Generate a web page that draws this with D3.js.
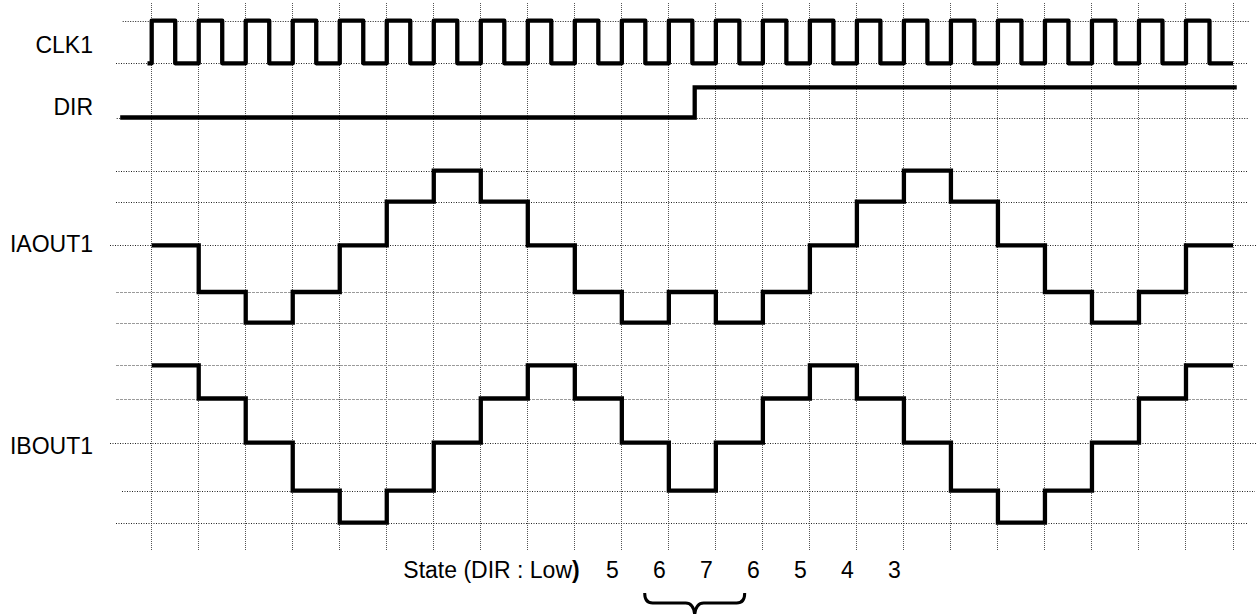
<!DOCTYPE html>
<html><head><meta charset="utf-8">
<script src="https://cdn.jsdelivr.net/npm/d3@7"></script>
<style>
html,body{margin:0;padding:0;background:#fff;}
svg{display:block;}
text{font-family:"Liberation Sans",Arial,sans-serif;font-size:23px;fill:#000;}
</style></head><body>
<svg id="chart" width="1257" height="614"></svg>
<script>
// ---- data ----
const signalNames = ["CLK1", "DIR", "IAOUT1", "IBOUT1"];
const gridColumns = [0,1,2,3,4,5,6,7,8,9,10,11,12,13,14,15,16,17,18,19,20,21,22,23];
// clock level for each half period (high, low, ...)
const clkLevels = [1,0,1,0,1,0,1,0,1,0,1,0,1,0,1,0,1,0,1,0,1,0,1,0,
                   1,0,1,0,1,0,1,0,1,0,1,0,1,0,1,0,1,0,1,0,1,0];
const dirEdges  = [-0.67, 11.55, 23.08];
const dirLevels = [0, 1, 1];
const iaoutLevels = [0,-1,-2,-1,0,1,2,1,0,-1,-2,-1,-2,-1,0,1,2,1,0,-1,-2,-1,0];
const iboutLevels = [2,1,0,-1,-2,-1,0,1,2,1,0,-1,0,1,2,1,0,-1,-2,-1,0,1,2];
const stateLabel = "State (DIR : Low";
const stateValues = ["5","6","7","6","5","4","3"];
const stateColumns = [10,11,12,13,14,15,16];

// ---- scales ----
const svg = d3.select("#chart");
const x = d3.scaleLinear().domain([0, 23]).range([151.7, 1233]);
const yClk = d3.scaleLinear().domain([0, 1]).range([63.3, 20.7]);
const yDir = d3.scaleLinear().domain([0, 1]).range([117.5, 87.3]);
const yA = d3.scaleLinear().domain([-2,-1,0,1,2]).range([322.7, 292, 245.3, 201.7, 170.7]);
const yB = d3.scaleLinear().domain([-2,-1,0,1,2]).range([522.7, 490.7, 442.7, 398.5, 365.3]);

// ---- grid ----
const grid = svg.append("g");
grid.selectAll("line.v").data(gridColumns).join("line")
  .attr("x1", d => x(d)).attr("x2", d => x(d))
  .attr("y1", 3).attr("y2", 551)
  .attr("stroke", "#555").attr("stroke-width", 1).attr("stroke-dasharray", "1,1")
  .attr("shape-rendering", "crispEdges");

const hLines = [
  {y: yClk(1), x1: 122.7, x2: 1250, grey: false},
  {y: yClk(0), x1: 116, x2: 1248, grey: false},
  {y: yDir(0), x1: 116.7, x2: 1248, grey: false},
  {y: yA(2), x1: 116, x2: 1248, grey: false},
  {y: yA(1), x1: 116, x2: 1248, grey: false},
  {y: yA(0), x1: 110, x2: 1257, grey: false},
  {y: yA(-1), x1: 116, x2: 1248, grey: true},
  {y: yA(-2), x1: 116, x2: 1248, grey: true},
  {y: yB(2), x1: 116, x2: 1248, grey: true},
  {y: yB(1), x1: 116, x2: 1248, grey: true},
  {y: yB(0), x1: 110, x2: 1257, grey: false},
  {y: yB(-1), x1: 122, x2: 1255, grey: false},
  {y: yB(-2), x1: 116, x2: 1248, grey: false}
];
grid.selectAll("line.h").data(hLines).join("line")
  .attr("x1", d => d.x1).attr("x2", d => d.x2)
  .attr("y1", d => Math.round(d.y) + 0.5).attr("y2", d => Math.round(d.y) + 0.5)
  .attr("stroke", d => d.grey ? "#9a9a9a" : "#222")
  .attr("stroke-width", 1)
  .attr("stroke-dasharray", d => d.grey ? "3,1" : "1,1.5");

// ---- signals ----
const stepLine = (ys) => d3.line().x(d => x(d.t)).y(d => ys(d.v)).curve(d3.curveStepAfter);

const clkPts = [{t: -0.09, v: 0}].concat(clkLevels.map((v, i) => ({t: i * 0.5, v})), [{t: 23, v: 0}]);
const dirPts = dirEdges.map((t, i) => ({t, v: dirLevels[i]}));
const aPts = iaoutLevels.map((v, i) => ({t: i, v})).concat([{t: 23, v: iaoutLevels[iaoutLevels.length - 1]}]);
const bPts = iboutLevels.map((v, i) => ({t: i, v})).concat([{t: 23, v: iboutLevels[iboutLevels.length - 1]}]);

const sig = svg.append("g").attr("fill", "none").attr("stroke", "#000").attr("stroke-width", 4.3);
sig.append("path").attr("d", stepLine(yClk)(clkPts)).attr("stroke-linejoin", "round");
sig.append("path").attr("d", stepLine(yDir)(dirPts)).attr("stroke-linejoin", "miter");
sig.append("path").attr("d", stepLine(yA)(aPts)).attr("stroke-linejoin", "miter");
sig.append("path").attr("d", stepLine(yB)(bPts)).attr("stroke-linejoin", "miter");

// ---- labels ----
const labelY = [53.3, 115, 251.7, 454];
svg.append("g").selectAll("text").data(signalNames).join("text")
  .attr("x", 93).attr("y", (d, i) => labelY[i])
  .attr("text-anchor", "end").text(d => d);

// ---- state row ----
const st = svg.append("text").attr("x", 403.3).attr("y", 578.3);
st.append("tspan").text(stateLabel);
st.append("tspan").attr("font-weight", "bold").text(")");

svg.append("g").selectAll("text").data(stateValues).join("text")
  .attr("x", (d, i) => x(stateColumns[i]) - 9.5).attr("y", 578.3)
  .attr("text-anchor", "middle").text(d => d);

// ---- brace under the direction change ----
const cx = x(dirEdges[1]);
const braceTop = 593, braceMid = 603, braceTip = 615;
svg.append("path")
  .attr("d", `M${cx-50},${braceTop} Q${cx-50},${braceMid} ${cx-42},${braceMid} L${cx-9},${braceMid} Q${cx-1},${braceMid} ${cx},${braceTip} Q${cx+1},${braceMid} ${cx+9},${braceMid} L${cx+42},${braceMid} Q${cx+50},${braceMid} ${cx+50},${braceTop}`)
  .attr("fill", "none").attr("stroke", "#000").attr("stroke-width", 3);
</script>
</body></html>
